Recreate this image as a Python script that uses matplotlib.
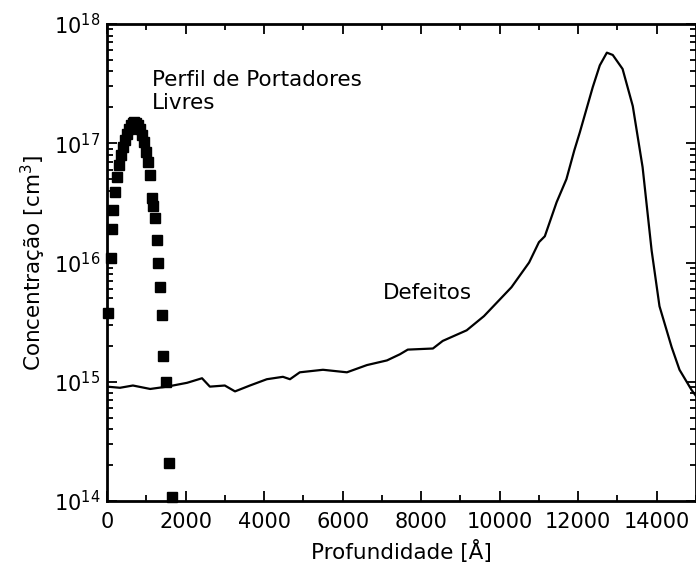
import matplotlib
matplotlib.use('Agg')
import matplotlib.pyplot as plt
from matplotlib.ticker import MultipleLocator, LogLocator, NullFormatter

# Defeitos (linha)
def_x = [0, 330, 660, 1100, 1530, 2040, 2420, 2620, 3000, 3260, 3640, 4070, 4480,
         4660, 4910, 5500, 6110, 6620, 7130, 7460, 7660, 8300, 8550, 9160, 9600,
         10300, 10750, 11000, 11150, 11450, 11700, 11900, 12040, 12370, 12550,
         12730, 12880, 13130, 13390, 13640, 13870, 14070, 14380, 14580, 14890, 15000]
def_y = [9.1e14, 8.9e14, 9.3e14, 8.7e14, 9.1e14, 9.8e14, 1.07e15, 9.1e14, 9.3e14,
         8.3e14, 9.3e14, 1.05e15, 1.1e15, 1.05e15, 1.2e15, 1.26e15, 1.2e15, 1.38e15,
         1.51e15, 1.7e15, 1.86e15, 1.9e15, 2.2e15, 2.7e15, 3.55e15, 6.2e15, 1.0e16,
         1.48e16, 1.66e16, 3.2e16, 5.0e16, 8.7e16, 1.23e17, 2.95e17, 4.5e17, 5.75e17,
         5.5e17, 4.2e17, 2.05e17, 6.3e16, 1.26e16, 4.3e15, 1.95e15, 1.26e15, 8.5e14,
         7.6e14]

# Perfil de portadores livres (pontos)
port_x = [25, 110, 140, 160, 200, 250, 300, 350, 400, 450, 500, 550, 600, 650, 700,
          750, 800, 850, 900, 950, 1000, 1050, 1100, 1150, 1170, 1220, 1270, 1300,
          1340, 1400, 1430, 1500, 1580, 1650]
port_y = [3.8e15, 1.1e16, 1.9e16, 2.75e16, 3.9e16, 5.2e16, 6.6e16, 7.9e16, 9.3e16,
          1.07e17, 1.2e17, 1.32e17, 1.41e17, 1.48e17, 1.51e17, 1.48e17, 1.41e17,
          1.32e17, 1.17e17, 1.02e17, 8.5e16, 6.9e16, 5.4e16, 3.5e16, 2.95e16, 2.35e16,
          1.55e16, 1.0e16, 6.2e15, 3.6e15, 1.65e15, 1.0e15, 2.1e14, 1.07e14]

fig = plt.figure(figsize=(6.96, 5.8), dpi=100)
ax = fig.add_axes([107/696, 79/580, 589/696, 477/580])

ax.plot(def_x, def_y, color='black', lw=1.6)
ax.plot(port_x, port_y, 's', color='black', markersize=6.5, clip_on=False)

ax.set_yscale('log')
ax.set_xlim(0, 15000)
ax.set_ylim(1e14, 1e18)

ax.xaxis.set_major_locator(MultipleLocator(2000))
ax.xaxis.set_minor_locator(MultipleLocator(1000))
ax.yaxis.set_major_locator(LogLocator(base=10, numticks=10))
ax.yaxis.set_minor_locator(LogLocator(base=10, subs=range(2, 10), numticks=50))
ax.yaxis.set_minor_formatter(NullFormatter())

ax.tick_params(which='both', direction='in', top=True, right=True, width=1.3)
ax.tick_params(which='major', length=7)
ax.tick_params(which='minor', length=4)
ax.tick_params(axis='x', labelsize=15, pad=8)
ax.tick_params(axis='y', labelsize=15, pad=5)
for s in ax.spines.values():
    s.set_linewidth(2)

ax.set_xlabel('Profundidade [Å]', fontsize=15.5, labelpad=6)
ax.set_ylabel('Concentração [cm$^{3}$]', fontsize=15.5, labelpad=4)

ax.text(1145, 4.1e17, 'Perfil de Portadores\nLivres', fontsize=15.5,
        ha='left', va='top', linespacing=1.15)
ax.text(7025, 5.6e15, 'Defeitos', fontsize=15.5, ha='left', va='center')

fig.savefig('out.png', dpi=100)
